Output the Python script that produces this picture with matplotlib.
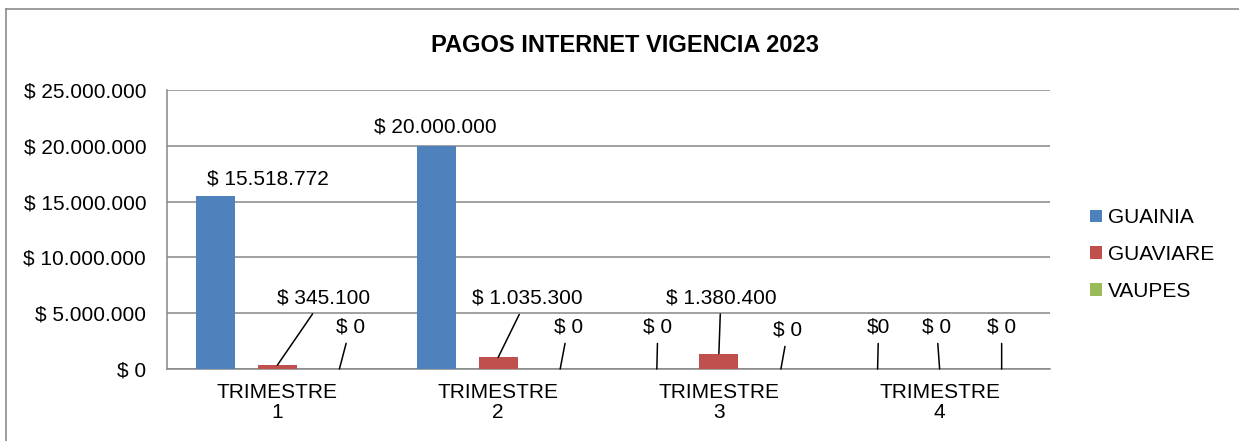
import matplotlib
matplotlib.use('Agg')
import matplotlib.pyplot as plt
from matplotlib.lines import Line2D
import numpy as np

plt.rcParams['font.family'] = ['Liberation Sans', 'DejaVu Sans']

# data
categories = ['TRIMESTRE\n1', 'TRIMESTRE\n2', 'TRIMESTRE\n3', 'TRIMESTRE\n4']
series_names = ['GUAINIA', 'GUAVIARE', 'VAUPES']
guainia = [15518772, 20000000, 0, 0]
guaviare = [345100, 1035300, 1380400, 0]
vaupes = [0, 0, 0, 0]
data_labels = [
    ['$ 15.518.772', '$ 20.000.000', '$ 0', '$0'],
    ['$ 345.100', '$ 1.035.300', '$ 1.380.400', '$ 0'],
    ['$ 0', '$ 0', '$ 0', '$ 0'],
]
y_ticks = [0, 5000000, 10000000, 15000000, 20000000, 25000000]
y_tick_labels = ['$ 0', '$ 5.000.000', '$ 10.000.000', '$ 15.000.000',
                 '$ 20.000.000', '$ 25.000.000']

colors = ['#4F81BD', '#C0504D', '#9BBB59']
FS = 15

# label offsets (pixels) from the bar top, and whether a leader line is drawn
label_offsets = [
    [(53, 17), (-1, 19), (1, 42), (1, 42)],
    [(46, 67), (29, 59), (2, 56), (-3, 42)],
    [(11, 42), (8, 42), (7, 39), (0, 42)],
]
leaders = [
    [False, False, True, True],
    [True, True, True, True],
    [True, True, True, True],
]

fig = plt.figure(figsize=(12.39, 4.41), dpi=100)
ax = fig.add_axes([167 / 1239, 72 / 441, 883 / 1239, 279 / 441])

# outer chart border
fig.add_artist(Line2D([6 / 1239, 6 / 1239], [0, 1 - 9 / 441], transform=fig.transFigure,
                      color='#8c8c8c', lw=1.2))
fig.add_artist(Line2D([6 / 1239, 1], [1 - 9 / 441, 1 - 9 / 441], transform=fig.transFigure,
                      color='#8c8c8c', lw=1.2))

x = np.arange(len(categories))
offset = 0.281
width = 0.177
all_values = [guainia, guaviare, vaupes]

for s, (name, vals) in enumerate(zip(series_names, all_values)):
    xs = x + (s - 1) * offset
    ax.bar(xs, vals, width=width, color=colors[s], label=name, zorder=3)
    for i in range(len(categories)):
        dx, dy = label_offsets[s][i]
        if leaders[s][i]:
            ax.annotate(data_labels[s][i], xy=(xs[i], vals[i]), xytext=(dx, dy),
                        textcoords='offset pixels', ha='center', va='center',
                        fontsize=FS, zorder=5,
                        arrowprops=dict(arrowstyle='-', color='black', lw=1.1,
                                        shrinkA=3, shrinkB=0))
        else:
            ax.annotate(data_labels[s][i], xy=(xs[i], vals[i]), xytext=(dx, dy),
                        textcoords='offset pixels', ha='center', va='center',
                        fontsize=FS, zorder=5)

ax.set_xlim(-0.5, 3.5)
ax.set_ylim(0, 25000000)
ax.set_yticks(y_ticks)
ax.set_yticklabels(y_tick_labels, fontsize=FS)
ax.set_xticks(x)
ax.set_xticklabels(categories, fontsize=FS, linespacing=1.05)
ax.tick_params(axis='y', length=0, pad=15)
ax.tick_params(axis='x', length=0, pad=10)

ax.grid(axis='y', color='#868686', lw=1.1, zorder=0)
for side in ['top', 'right']:
    ax.spines[side].set_visible(False)
ax.spines['left'].set_color('#868686')
ax.spines['bottom'].set_color('#868686')
ax.spines['left'].set_linewidth(1.1)
ax.spines['bottom'].set_linewidth(1.1)

fig.text(625 / 1239, 1 - 45 / 441, 'PAGOS INTERNET VIGENCIA 2023', ha='center', va='center',
         fontsize=17, fontweight='bold')

leg = fig.legend(loc='upper left', bbox_to_anchor=(1082 / 1239, 1 - 200 / 441),
                 frameon=False, fontsize=FS, handlelength=0.55, handleheight=0.55,
                 handletextpad=0.3, labelspacing=0.85, borderaxespad=0)

fig.savefig('out.png', dpi=100)
